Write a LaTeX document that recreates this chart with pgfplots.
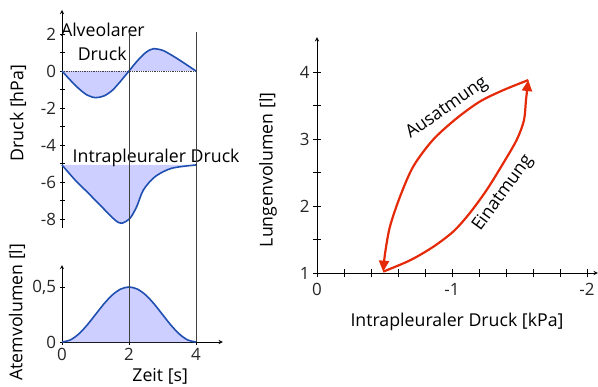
\documentclass[border=0pt]{standalone}
\usepackage{pgfplots}
\pgfplotsset{compat=1.18}
\usepgfplotslibrary{fillbetween}
\usetikzlibrary{arrows.meta}
\usepackage{fontspec}
\setmainfont{Open Sans}
\definecolor{bl}{HTML}{1F4FB0}
\definecolor{fl}{HTML}{CCCFFF}
\definecolor{rd}{HTML}{E52A0A}
\definecolor{vl}{HTML}{404040}
\newcommand{\lab}{\fontsize{17.8}{17.8}\selectfont}
\pgfplotsset{
 base/.style={scale only axis, clip=false,
   axis line style={line width=0.9bp, -{Latex[length=7bp,width=5bp]}},
   tick style={black, line width=0.8bp},
   tick align=outside, major tick length=5bp, minor tick length=5bp,
   every tick label/.append style={font=\fontsize{17}{17}\selectfont, text=black!85},
   /pgf/number format/assume math mode=true},
}
\begin{document}
\begin{tikzpicture}
% top-left: pressures
\begin{axis}[base, at={(62bp,-228.25bp)}, anchor=south west,
  width=160.8bp, height=218.3bp, xmin=0, xmax=4.8, ymin=-8.5, ymax=3.3,
  axis x line=none, axis y line=left,
  ytick={-8,-6,-4,-2,0,2}, yticklabels={-8,-6,-4,-2,0,2},
  minor ytick={-7,-5,-3,-1,1}]
\addplot[name path=alv, draw=none, smooth] coordinates {(0,0) (0.25,-0.5) (0.5,-0.95) (0.75,-1.3) (1.0,-1.44) (1.25,-1.35) (1.5,-1.05) (1.75,-0.55) (2.0,0) (2.25,0.55) (2.5,1.0) (2.72,1.2) (3.0,1.12) (3.25,0.88) (3.5,0.6) (3.75,0.3) (4,0)};
\addplot[name path=zero, draw=none] coordinates {(0,0) (4,0)};
\addplot[fl] fill between[of=alv and zero];
\addplot[name path=ip, draw=none, smooth] coordinates {(0,-5.08) (0.39,-5.89) (0.79,-6.61) (1.18,-7.33) (1.58,-8.05) (1.78,-8.23) (2.03,-7.96) (2.23,-7.33) (2.43,-6.43) (2.78,-5.71) (3.27,-5.26) (4,-5.08)};
\addplot[name path=ipb, draw=none] coordinates {(0,-5.08) (4,-5.08)};
\addplot[fl] fill between[of=ip and ipb];
\addplot[densely dotted, line width=0.8bp, vl] coordinates {(0,0) (4,0)};
\addplot[bl, line width=1.6bp, smooth] coordinates {(0,0) (0.25,-0.5) (0.5,-0.95) (0.75,-1.3) (1.0,-1.44) (1.25,-1.35) (1.5,-1.05) (1.75,-0.55) (2.0,0) (2.25,0.55) (2.5,1.0) (2.72,1.2) (3.0,1.12) (3.25,0.88) (3.5,0.6) (3.75,0.3) (4,0)};
\addplot[bl, line width=1.6bp, smooth] coordinates {(0,-5.08) (0.39,-5.89) (0.79,-6.61) (1.18,-7.33) (1.58,-8.05) (1.78,-8.23) (2.03,-7.96) (2.23,-7.33) (2.43,-6.43) (2.78,-5.71) (3.27,-5.26) (4,-5.08)};
\node[anchor=base, font=\lab] at (axis cs:1.22,1.84) {Alveolarer};
\node[anchor=base, font=\lab] at (axis cs:1.20,0.59) {Druck};
\node[anchor=base, font=\lab] at (axis cs:2.81,-4.92) {Intrapleuraler Druck};
\node[rotate=90, font=\lab] at (axis cs:-1.31,-2.27) {Druck [hPa]};
\end{axis}
% bottom-left: volume
\begin{axis}[base, at={(62bp,-342bp)}, anchor=south west,
  width=160.8bp, height=77bp, xmin=0, xmax=4.8, ymin=0, ymax=0.7,
  axis lines=left,
  xtick={0,2,4}, xticklabels={0,2,4},
  ytick={0,0.5}, yticklabels={0,{0,5}}]
\addplot[name path=vol, draw=none, smooth] coordinates {(0,0) (0.25,0.019) (0.5,0.073) (0.75,0.154) (1,0.25) (1.25,0.346) (1.5,0.427) (1.75,0.481) (2,0.5) (2.25,0.481) (2.5,0.427) (2.75,0.346) (3,0.25) (3.25,0.154) (3.5,0.073) (3.75,0.019) (4,0)};
\addplot[name path=vz, draw=none] coordinates {(0,0) (4,0)};
\addplot[fl] fill between[of=vol and vz];
\addplot[bl, line width=1.6bp, smooth] coordinates {(0,0) (0.25,0.019) (0.5,0.073) (0.75,0.154) (1,0.25) (1.25,0.346) (1.5,0.427) (1.75,0.481) (2,0.5) (2.25,0.481) (2.5,0.427) (2.75,0.346) (3,0.25) (3.25,0.154) (3.5,0.073) (3.75,0.019) (4,0)};
\addplot[vl, line width=0.8bp] coordinates {(2,0) (2,2.82)};
\addplot[vl, line width=0.8bp] coordinates {(4,0) (4,2.82)};
\node[font=\lab] at (axis cs:2.93,-0.31) {Zeit [s]};
\node[rotate=90, font=\lab] at (axis cs:-1.34,0.27) {Atemvolumen [l]};
\end{axis}
% right: loop
\begin{axis}[base, at={(317bp,-273bp)}, anchor=south west,
  width=280.8bp, height=235.8bp, xmin=0, xmax=2.08, ymin=1, ymax=4.52,
  axis lines=left, major tick length=8bp, minor tick length=8bp,
  xtick={0,1,2}, xticklabels={0,-1,-2},
  xticklabel style={yshift=-3bp},
  minor xtick={0.2,0.4,0.6,0.8,1.2,1.4,1.6,1.8},
  ytick={1,2,3,4}, yticklabels={1,2,3,4}, minor ytick={1.5,2.5,3.5}]
\addplot[rd, line width=2.2bp, smooth, -{Triangle[length=11bp,width=10bp]}] coordinates {(0.49,1.02) (0.69,1.19) (0.86,1.39) (1.01,1.62) (1.13,1.89) (1.257,2.24) (1.38,2.64) (1.48,2.99) (1.533,3.28) (1.548,3.58) (1.565,3.88)};
\addplot[rd, line width=2.2bp, smooth, -{Triangle[length=11bp,width=10bp]}] coordinates {(1.565,3.88) (1.38,3.73) (1.207,3.56) (1.035,3.31) (0.86,2.99) (0.713,2.59) (0.615,2.14) (0.54,1.69) (0.504,1.29) (0.49,1.02)};
\node[rotate=35, font=\lab] at (axis cs:0.963,3.46) {Ausatmung};
\node[rotate=54, font=\lab] at (axis cs:1.378,2.19) {Einatmung};
\node[font=\lab] at (axis cs:1.037,0.27) {Intrapleuraler Druck [kPa]};
\node[rotate=90, font=\lab] at (axis cs:-0.363,2.54) {Lungenvolumen [l]};
\end{axis}
\pgfresetboundingbox
\path[use as bounding box] (0,0) rectangle (598bp,-387bp);
\end{tikzpicture}
\end{document}
